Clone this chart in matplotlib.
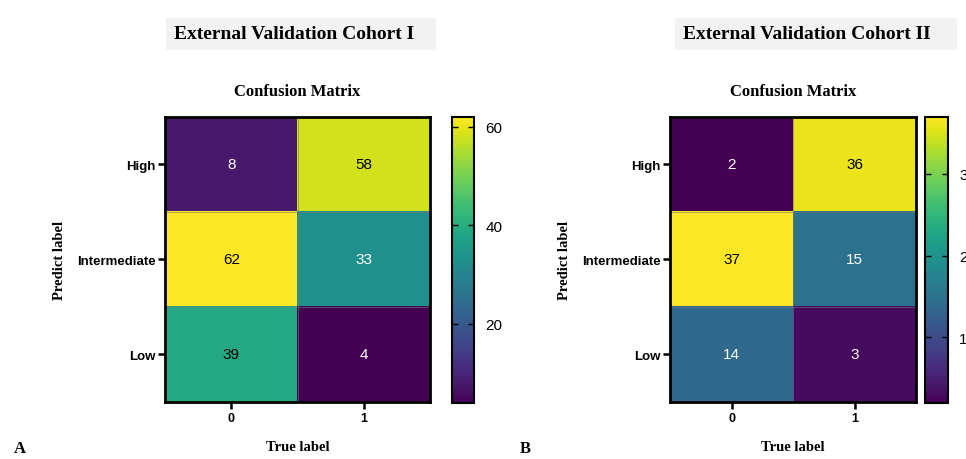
import numpy as np
import matplotlib
matplotlib.use('Agg')
import matplotlib.pyplot as plt
from matplotlib.patches import Rectangle

# confusion matrices, rows = predict label, cols = true label
row_labels = ['High', 'Intermediate', 'Low']
col_labels = ['0', '1']
cm_one = np.array([[8, 58], [62, 33], [39, 4]])
cm_two = np.array([[2, 36], [37, 15], [14, 3]])
cohort_names = ['External Validation Cohort I', 'External Validation Cohort II']
cbar_ticks_one = [20, 40, 60]
cbar_ticks_two = [10, 20, 30]

serif = 'Liberation Serif'
sans = 'Liberation Sans'

fig = plt.figure(figsize=(9.66, 4.6), dpi=100)


def draw_panel(cm, ax_rect, cb_rect, ticks, cohort, box_rect, text_x, letter, letter_x):
    ax = fig.add_axes(ax_rect)
    cax = fig.add_axes(cb_rect)
    vmin, vmax = cm.min(), cm.max()
    im = ax.imshow(cm, cmap='viridis', vmin=vmin, vmax=vmax, aspect='auto')
    thresh = (vmin + vmax) / 2.0
    for i in range(cm.shape[0]):
        for j in range(cm.shape[1]):
            c = 'black' if cm[i, j] > thresh else 'white'
            ax.text(j, i, str(cm[i, j]), ha='center', va='center',
                    color=c, fontsize=11, family=sans)
    ax.set_xticks(range(len(col_labels)))
    ax.set_xticklabels(col_labels, family=sans, fontweight='bold', fontsize=9)
    ax.set_yticks(range(len(row_labels)))
    ax.set_yticklabels(row_labels, family=sans, fontweight='bold', fontsize=9.5)
    ax.tick_params(length=5, width=1.8, pad=2)
    # thin cell separators
    for y in [0.5, 1.5]:
        ax.axhline(y, color='#777777', lw=0.4)
    ax.axvline(0.5, color='#777777', lw=0.4)
    for s in ax.spines.values():
        s.set_linewidth(2)
    ax.set_xlabel('True label', family=serif, fontweight='bold', fontsize=10.5, labelpad=12)
    ax.set_ylabel('Predict label', family=serif, fontweight='bold', fontsize=10.5, labelpad=8)
    ax.set_title('Confusion Matrix', family=serif, fontweight='bold', fontsize=12, pad=16)

    cb = fig.colorbar(im, cax=cax, ticks=ticks)
    cb.outline.set_linewidth(1.5)
    cax.tick_params(direction='in', left=True, right=True, length=4, width=1,
                    labelsize=11, pad=8)
    for t in cax.get_yticklabels():
        t.set_family(sans)

    fig.patches.append(Rectangle((box_rect[0], box_rect[1]), box_rect[2], box_rect[3],
                                 transform=fig.transFigure, facecolor='#f2f2f2',
                                 edgecolor='none', zorder=0))
    fig.text(text_x, box_rect[1] + box_rect[3] / 2, cohort, ha='left', va='center',
             family=serif, fontweight='bold', fontsize=14)
    fig.text(letter_x, 0.015, letter, family=serif, fontweight='bold', fontsize=12)


draw_panel(cm_one, [0.171, 0.124, 0.274, 0.620], [0.468, 0.122, 0.0228, 0.622],
           cbar_ticks_one, cohort_names[0], (0.172, 0.889, 0.279, 0.070), 0.180, 'A', 0.014)
draw_panel(cm_two, [0.6936, 0.124, 0.2547, 0.620], [0.9576, 0.122, 0.0238, 0.622],
           cbar_ticks_two, cohort_names[1], (0.699, 0.889, 0.292, 0.070), 0.707, 'B', 0.538)

fig.savefig('out.png', dpi=100, facecolor='white')
